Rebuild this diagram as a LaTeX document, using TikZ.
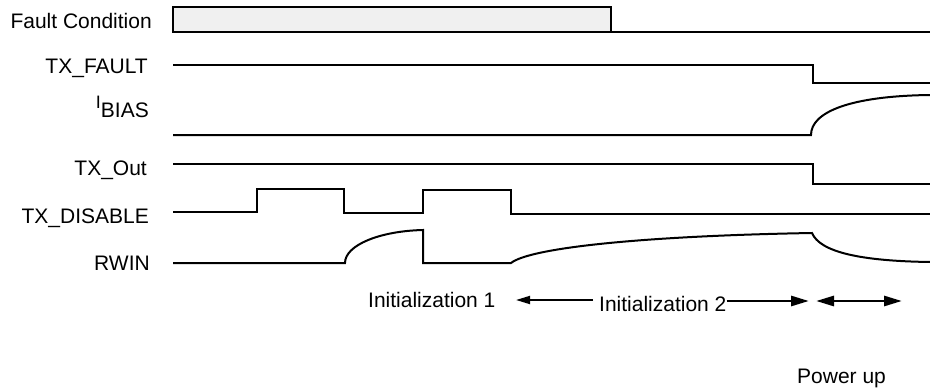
\documentclass[tikz,border=0pt]{standalone}
\usepackage{fontspec}
\setmainfont{Liberation Sans}
\usetikzlibrary{arrows.meta}
\begin{document}
\begin{tikzpicture}[x=1pt,y=-1pt,
  sig/.style={line width=2pt, line join=miter},
  lbl/.style={anchor=base east, inner sep=0pt, font=\fontsize{21}{24}\selectfont},
  txt/.style={anchor=base west, inner sep=0pt, font=\fontsize{21}{24}\selectfont},
  arrA/.style={line width=1.8pt, -{Triangle[length=14pt,width=8pt]}},
  arrB/.style={line width=2.8pt, -{Triangle[length=18pt,width=10pt]}},
  arrC/.style={line width=2.8pt, {Triangle[length=18pt,width=10pt]}-{Triangle[length=18pt,width=10pt]}}]
\useasboundingbox (0,0) rectangle (930,388);
% labels
\node[lbl] (lfault) at (152,28) {Fault Condition};
\node[lbl] (ltxf) at (148,73) {TX\_FAULT};
\node[lbl] (lbias) at (149,117) {\raisebox{9pt}{\fontsize{18}{20}\selectfont I}BIAS};
\node[lbl] (ltxo) at (147,175) {TX\_Out};
\node[lbl] (ltxd) at (149,223) {TX\_DISABLE};
\node[lbl] (lrwin) at (150,270) {RWIN};
% fault condition
\draw[line width=2.6pt, fill=black!6] (173,7) rectangle (611,32);
\draw[sig] (611,32) -- (930,32);
% TX_FAULT
\draw[sig] (173,65) -- (813,65) -- (813,83) -- (930,83);
% IBIAS
\draw[sig] (173,135) -- (811,135) .. controls (811,112) and (850,96) .. (930,95);
% TX_Out
\draw[sig] (173,164) -- (813,164) -- (813,184) -- (930,184);
% TX_DISABLE
\draw[sig] (173,212) -- (257,212) -- (257,189) -- (344,189) -- (344,213)
  -- (423,213) -- (423,190) -- (511,190) -- (511,214) -- (930,214);
% RWIN
\draw[sig] (173,263) -- (345,263) .. controls (345,245) and (380,231) .. (423,230)
  -- (423,263) -- (511,263) .. controls (530,248) and (640,236) .. (812,233)
  .. controls (820,252) and (860,261) .. (930,262);
% phases
\node[txt] (init1) at (368,307) {Initialization 1};
\node[txt] (init2) at (599,311) {Initialization 2};
\node[txt] (pwr) at (797,383) {Power up};
\coordinate (a1) at (516,300);
\coordinate (a2) at (809,301);
\coordinate (b1) at (816,301);
\coordinate (b2) at (902,301);
\draw[arrA] (init2.west |- a1) ++(-6,0) -- (a1);
\draw[arrB] (init2.east |- a2) -- (a2);
\draw[arrC] (b1) -- (b2);
\end{tikzpicture}
\end{document}
